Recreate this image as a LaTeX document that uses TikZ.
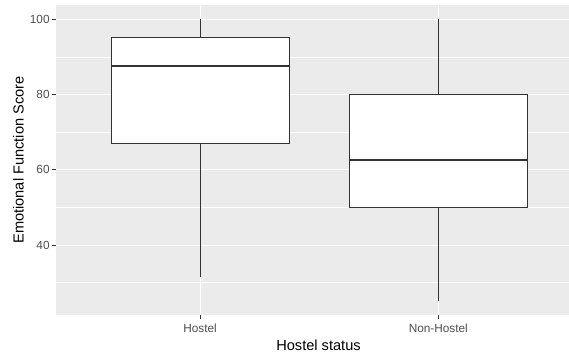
\documentclass[tikz,border=0pt]{standalone}
\usepackage{fontspec}
\setmainfont{Liberation Sans}
\definecolor{panelbg}{HTML}{EBEBEB}
\definecolor{boxline}{HTML}{333333}
\definecolor{ticktext}{HTML}{4D4D4D}
\begin{document}
\begin{tikzpicture}[x=1pt,y=1pt,
  majorgrid/.style={white,line width=1pt},
  minorgrid/.style={white,line width=0.5pt},
  boxstyle/.style={draw=boxline,fill=white,line width=1pt},
  whisker/.style={boxline,line width=1pt},
  median/.style={boxline,line width=2pt},
  tickmark/.style={boxline,line width=0.9pt},
  ticklabel/.style={text=ticktext,font=\fontsize{11.8}{13}\selectfont,inner sep=0pt},
  axistitle/.style={text=black,font=\fontsize{14.6}{17}\selectfont,inner sep=0pt}]
\useasboundingbox (0,0) rectangle (569,355);
% panel
\fill[panelbg] (56,40) rectangle (569,350);
\begin{scope}[y=3.76pt,yshift=-40.5pt]
  % minor grid
  \foreach \v in {30,50,70,90} \draw[minorgrid] (56,\v) -- (569,\v);
  % major grid
  \foreach \v in {40,60,80,100} \draw[majorgrid] (56,\v) -- (569,\v);
  \draw[majorgrid] (200,21.41) -- (200,103.86);
  \draw[majorgrid] (438.3,21.41) -- (438.3,103.86);
  % Hostel box
  \draw[whisker] (200,95.2) -- (200,100);
  \draw[whisker] (200,67.1) -- (200,31.4);
  \draw[boxstyle] (111,67.1) rectangle (289,95.2);
  \draw[median] (111,87.5) -- (289,87.5);
  % Non-Hostel box
  \draw[whisker] (438.3,80) -- (438.3,100);
  \draw[whisker] (438.3,50) -- (438.3,25);
  \draw[boxstyle] (349.3,50) rectangle (527.3,80);
  \draw[median] (349.3,62.5) -- (527.3,62.5);
  % y ticks
  \foreach \v in {40,60,80,100} {
    \draw[tickmark] (52.3,\v) -- (56,\v);
    \node[ticklabel,anchor=east] (yl\v) at (49.8,\v) {\v};
  }
\end{scope}
% x ticks
\draw[tickmark] (200,40) -- (200,36.3);
\draw[tickmark] (438.3,40) -- (438.3,36.3);
\node[ticklabel,anchor=north] (xl1) at (200,31.5) {Hostel};
\node[ticklabel,anchor=north] (xl2) at (438.3,31.5) {Non-Hostel};
% titles
\node[axistitle] (xt) at (318.5,9.5) {Hostel status};
\node[axistitle,rotate=90] (yt) at (18.5,195) {Emotional Function Score};
\end{tikzpicture}
\end{document}
